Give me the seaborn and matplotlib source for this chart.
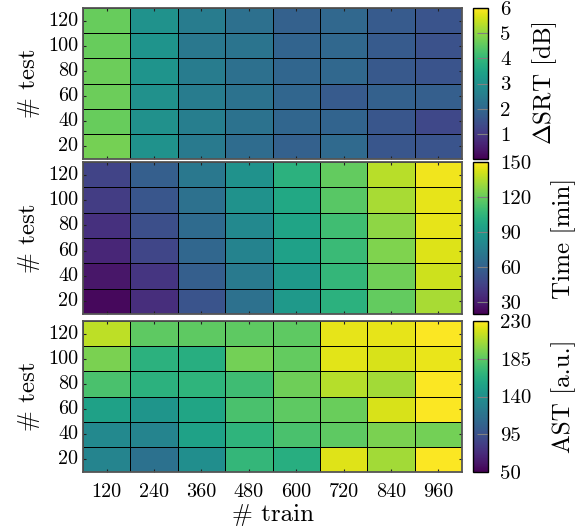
import numpy as np
import pandas as pd
import matplotlib
matplotlib.use("Agg")
import matplotlib.pyplot as plt
import seaborn as sns

# grid sizes
train = [120, 240, 360, 480, 600, 720, 840, 960]
test = [120, 100, 80, 60, 40, 20]  # top to bottom

# Delta SRT [dB], rows = test (120 -> 20), cols = train
srt = [
    [4.60, 3.05, 2.50, 2.20, 1.85, 2.00, 1.70, 1.55],
    [4.60, 3.10, 2.40, 2.30, 1.90, 2.00, 1.70, 1.50],
    [4.65, 3.10, 2.50, 2.20, 1.95, 2.00, 1.65, 1.55],
    [4.65, 3.00, 2.50, 2.25, 1.95, 1.70, 1.85, 1.80],
    [4.60, 3.00, 2.55, 2.25, 1.95, 1.90, 1.60, 1.30],
    [4.75, 3.05, 2.45, 2.10, 1.85, 2.05, 1.60, 1.55],
]

# Time [min]
time_min = [
    [46, 59, 72, 86, 103, 119, 136, 147],
    [43, 55, 68, 86, 98, 116, 133, 145],
    [38, 51, 65, 81, 96, 110, 128, 145],
    [34, 47, 63, 78, 94, 108, 125, 143],
    [28, 40, 59, 73, 90, 106, 122, 140],
    [23, 37, 54, 68, 90, 103, 119, 133],
]

# AST [a.u.]
ast = [
    [212, 185, 185, 185, 185, 223, 223, 229],
    [194, 165, 163, 192, 187, 222, 219, 224],
    [178, 165, 167, 174, 190, 210, 205, 229],
    [153, 144, 156, 178, 185, 189, 219, 229],
    [135, 131, 154, 167, 178, 185, 194, 192],
    [131, 117, 138, 169, 163, 221, 205, 229],
]

panels = [
    (srt, r"$\Delta$SRT [dB]", 0, 6, [1, 2, 3, 4, 5, 6]),
    (time_min, "Time [min]", 20, 150, [30, 60, 90, 120, 150]),
    (ast, "AST [a.u.]", 50, 230, [50, 95, 140, 185, 230]),
]

plt.rcParams["font.family"] = ["cmr10", "DejaVu Serif"]
plt.rcParams["mathtext.fontset"] = "cm"
plt.rcParams["axes.unicode_minus"] = False

fig = plt.figure(figsize=(5.88, 5.29), dpi=100)
W, H = 588, 529
rows_px = [(8, 159), (162, 314), (321, 472)]

for i, ((vals, label, vmin, vmax, cticks), (y0, y1)) in enumerate(zip(panels, rows_px)):
    ax = fig.add_axes([83 / W, 1 - y1 / H, (462 - 83) / W, (y1 - y0) / H])
    cax = fig.add_axes([473 / W, 1 - y1 / H, 15 / W, (y1 - y0) / H])
    df = pd.DataFrame(vals, index=test, columns=train)
    sns.heatmap(df, ax=ax, cbar_ax=cax, cmap="viridis", vmin=vmin, vmax=vmax,
                linewidths=0.6, linecolor="black")
    for s in ax.spines.values():
        s.set_visible(True)
        s.set_color("#555555")
        s.set_linewidth(1.3)
    ax.tick_params(direction="in", length=2.5, width=0.8, top=True, right=True,
                   labelsize=14.5, color="#222222")
    ax.tick_params(axis="x", pad=8)
    ax.set_yticklabels(test, rotation=0)
    ax.set_ylabel("# test", fontsize=18, labelpad=6)
    if i < 2:
        ax.set_xticklabels([])
        ax.set_xlabel("")
    else:
        ax.set_xticklabels(train, rotation=0)
        ax.set_xlabel("# train", fontsize=18, labelpad=2)

    cb = ax.collections[0].colorbar
    cb.set_ticks(cticks)
    cb.set_ticklabels([str(t) for t in cticks])
    cb.outline.set_edgecolor("black")
    cb.outline.set_linewidth(1.0)
    cax.tick_params(direction="in", length=8, width=0.8, color="gray",
                    labelsize=15, pad=9)
    cb.set_label(label, fontsize=18, labelpad=14)

fig.savefig("out.png", dpi=100)
